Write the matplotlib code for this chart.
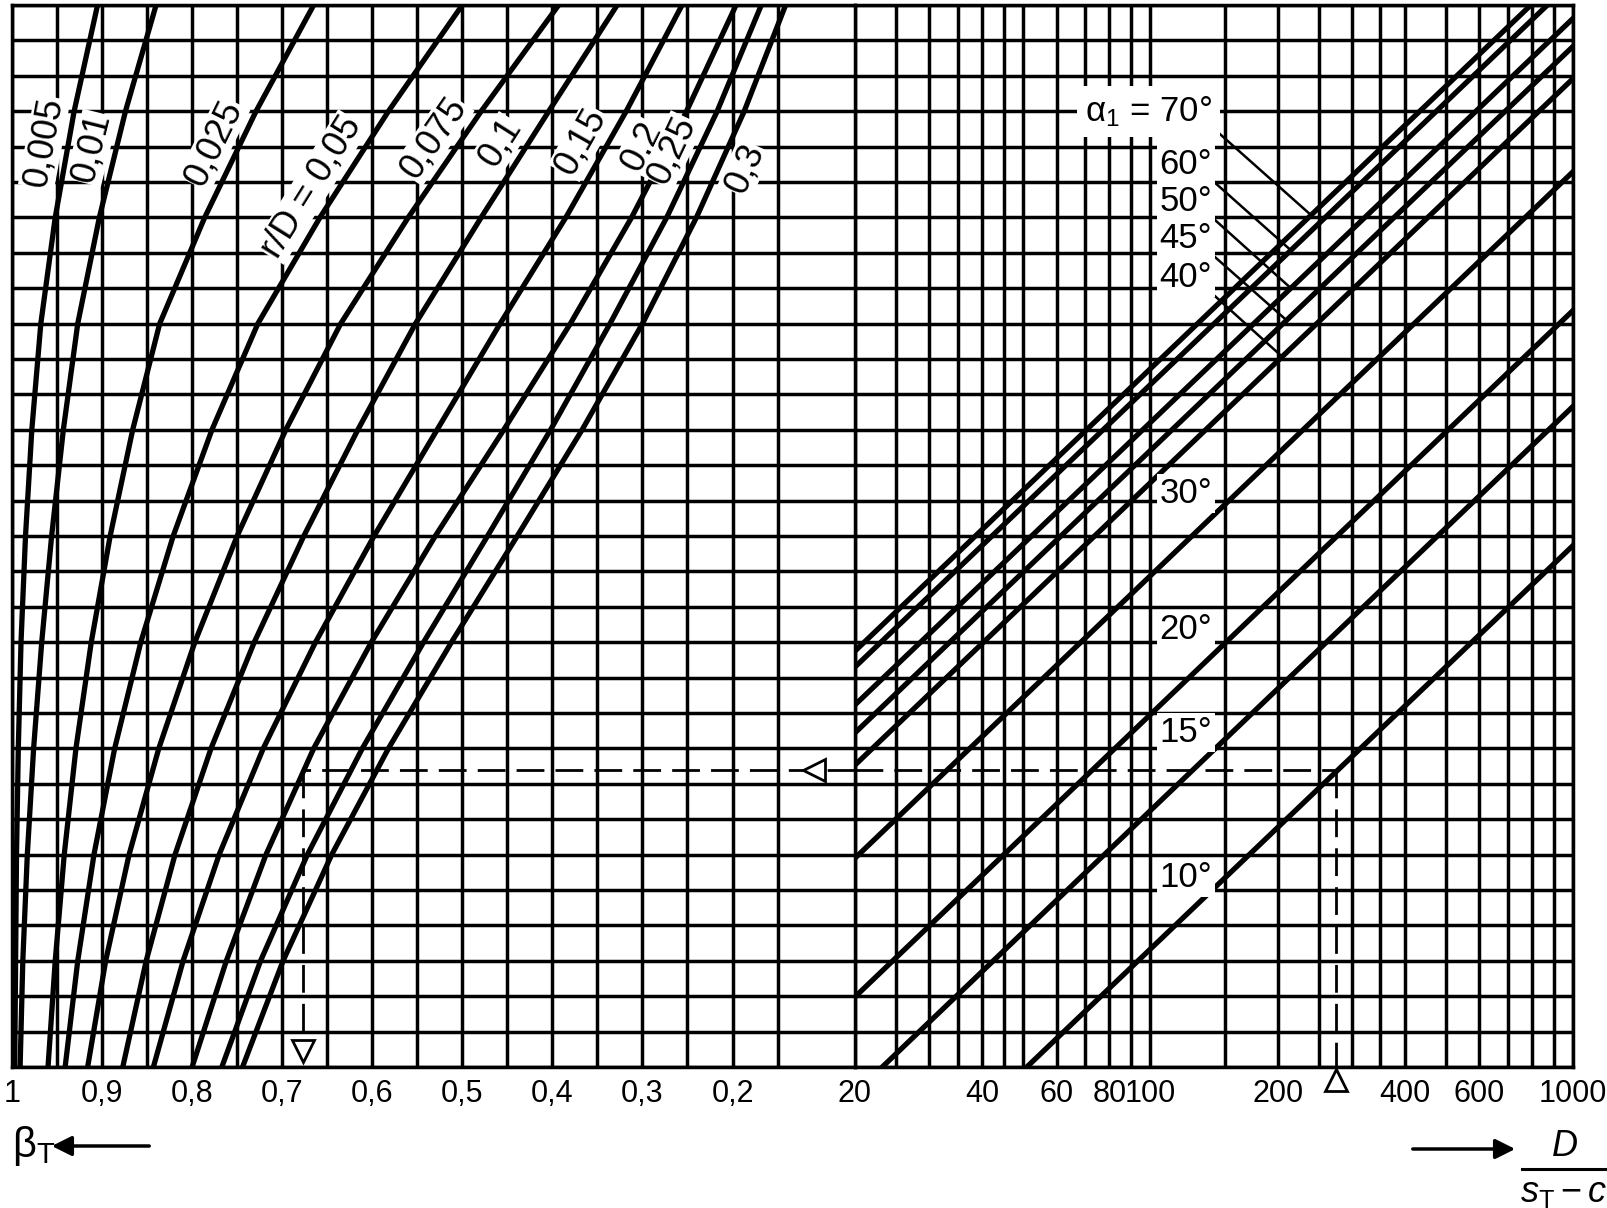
import numpy as np
import matplotlib.pyplot as plt
from matplotlib.ticker import FixedLocator, FixedFormatter, NullFormatter

plt.rcParams['font.family'] = ['Liberation Sans', 'DejaVu Sans']
plt.rcParams['mathtext.fontset'] = 'custom'
plt.rcParams['mathtext.rm'] = 'Liberation Sans'
plt.rcParams['mathtext.it'] = 'Liberation Sans:italic'

# unlabelled vertical scale: 0 at the bottom, 30 at the top, one grid step per unit
u_pts = [0, 3, 6, 9, 12, 15, 18, 21, 24, 27, 30]

# r/D curves, beta_T read at u_pts
rD_names = ['0,005', '0,01', '0,025', 'r/D = 0,05', '0,075', '0,1', '0,15', '0,2', '0,25', '0,3']
b_0005 = [0.997, 0.996, 0.995, 0.993, 0.990, 0.985, 0.978, 0.968, 0.952, 0.931, 0.905]
b_001 = [0.991, 0.988, 0.983, 0.976, 0.967, 0.956, 0.943, 0.927, 0.903, 0.874, 0.840]
b_0025 = [0.960, 0.952, 0.942, 0.929, 0.912, 0.891, 0.866, 0.836, 0.786, 0.729, 0.665]
b_005 = [0.941, 0.927, 0.909, 0.886, 0.857, 0.821, 0.778, 0.727, 0.658, 0.582, 0.500]
b_0075 = [0.916, 0.896, 0.870, 0.837, 0.797, 0.750, 0.696, 0.635, 0.560, 0.479, 0.393]
b_01 = [0.877, 0.851, 0.819, 0.779, 0.731, 0.676, 0.616, 0.552, 0.479, 0.404, 0.328]
b_015 = [0.843, 0.810, 0.770, 0.721, 0.663, 0.598, 0.528, 0.458, 0.385, 0.318, 0.256]
b_02 = [0.800, 0.762, 0.718, 0.665, 0.601, 0.530, 0.454, 0.380, 0.312, 0.251, 0.196]
b_025 = [0.767, 0.724, 0.672, 0.611, 0.543, 0.472, 0.402, 0.336, 0.273, 0.217, 0.168]
b_03 = [0.744, 0.699, 0.645, 0.582, 0.512, 0.439, 0.367, 0.300, 0.240, 0.187, 0.141]
rD_curves = [b_0005, b_001, b_0025, b_005, b_0075, b_01, b_015, b_02, b_025, b_03]
# where each label sits along its curve, and on which side (+ left, - right)
rD_label_u = [26.0, 25.8, 25.8, 24.5, 25.85, 25.75, 25.8, 25.7, 25.6, 25.65]
rD_label_side = [1, 1, 1, 1, 1, 1, 1, 1, 1, -1]

# alpha_1 lines, start and end points (D/(s-c), u)
alpha_names = ['70°', '60°', '50°', '45°', '40°', '30°', '20°', '15°', '10°']
alpha_D0 = [20, 20, 20, 20, 20, 20, 20, 23.2, 51]
alpha_u0 = [11.75, 11.3, 10.23, 9.44, 8.53, 5.9, 1.98, 0, 0]
alpha_D1 = [795, 870, 1000, 1000, 1000, 1000, 1000, 1000, 1000]
alpha_u1 = [30, 30, 29.62, 28.83, 27.92, 25.29, 21.37, 18.66, 14.73]
alpha_label_u = [27.0, 25.5, 24.45, 23.4, 22.3, 16.2, 12.35, 9.45, 5.35]
leader_end_D = [240, 215, 215, 210, 205]

# worked example
ex_D = 275
ex_u = 8.4
ex_beta = 0.677

beta_ticks = [1, 0.9, 0.8, 0.7, 0.6, 0.5, 0.4, 0.3, 0.2]
beta_ticklabels = ['1', '0,9', '0,8', '0,7', '0,6', '0,5', '0,4', '0,3', '0,2']
beta_minor = [0.95, 0.85, 0.75, 0.65, 0.55, 0.45, 0.35, 0.25, 0.15]
beta_edge = 0.064
D_ticks = [20, 40, 60, 80, 100, 200, 400, 600, 1000]
D_ticklabels = ['20', '40', '60', '80', '100', '200', '400', '600', '1000']
D_minor = [25, 30, 35, 45, 50, 70, 90, 150, 250, 300, 350, 500, 700, 800, 900]

W, H = 1608, 1208
fig = plt.figure(figsize=(W / 100, H / 100), dpi=100)
xl, xm, xr = 12, 855, 1573
yt, yb = 5, 1067
ax_l = fig.add_axes([xl / W, (H - yb) / H, (xm - xl) / W, (yb - yt) / H])
ax_r = fig.add_axes([xm / W, (H - yb) / H, (xr - xm) / W, (yb - yt) / H])

ax_l.set_xlim(1, beta_edge)
ax_l.xaxis.set_major_locator(FixedLocator(beta_ticks))
ax_l.xaxis.set_major_formatter(FixedFormatter(beta_ticklabels))
ax_l.xaxis.set_minor_locator(FixedLocator(beta_minor))

ax_r.set_xscale('log')
ax_r.set_xlim(20, 1000)
ax_r.xaxis.set_major_locator(FixedLocator(D_ticks))
ax_r.xaxis.set_major_formatter(FixedFormatter(D_ticklabels))
ax_r.xaxis.set_minor_locator(FixedLocator(D_minor))
ax_r.xaxis.set_minor_formatter(NullFormatter())

grid_lw = 2.5
for ax in (ax_l, ax_r):
    ax.set_ylim(0, 30)
    ax.set_yticks(range(0, 31))
    ax.yaxis.set_major_formatter(NullFormatter())
    ax.tick_params(which='both', length=0, pad=9, labelsize=22)
    ax.grid(True, which='both', color='black', lw=grid_lw)
    ax.set_axisbelow(True)
    for s in ax.spines.values():
        s.set_linewidth(grid_lw)
    ax.set_facecolor('none')
ax_l.spines['right'].set_visible(False)

# r/D curves with their labels beside them
inv = ax_l.transData.inverted()
for name, b, lu, side in zip(rD_names, rD_curves, rD_label_u, rD_label_side):
    ax_l.plot(b, u_pts, color='black', lw=3.8, zorder=3, solid_joinstyle='round')
    p1 = ax_l.transData.transform((np.interp(lu - 1.5, u_pts, b), lu - 1.5))
    p2 = ax_l.transData.transform((np.interp(lu + 1.5, u_pts, b), lu + 1.5))
    th = np.arctan2(p2[1] - p1[1], p2[0] - p1[0])
    pc = ax_l.transData.transform((np.interp(lu, u_pts, b), lu))
    off = 24 * side
    pl = pc + off * np.array([-np.sin(th), np.cos(th)])
    lb, lv = inv.transform(pl)
    ax_l.text(lb, lv, name, rotation=np.degrees(th), rotation_mode='anchor',
              ha='center', va='center', fontsize=26, zorder=5,
              bbox=dict(facecolor='white', edgecolor='none', pad=0.5))

# alpha_1 lines
for i, name in enumerate(alpha_names):
    ax_r.plot([alpha_D0[i], alpha_D1[i]], [alpha_u0[i], alpha_u1[i]], color='black', lw=3.8, zorder=3)
    if i == 0:
        ax_r.text(70, alpha_label_u[i], 'α$_1$ = ' + name, ha='left', va='center', fontsize=25,
                  zorder=5, bbox=dict(facecolor='white', edgecolor='none', pad=6))
    else:
        ax_r.text(105, alpha_label_u[i], name, ha='left', va='center', fontsize=25,
                  zorder=5, bbox=dict(facecolor='white', edgecolor='none', pad=2))

# leaders from the upper labels down to their lines
for i in range(5):
    slope = (alpha_u1[i] - alpha_u0[i]) / np.log10(alpha_D1[i] / alpha_D0[i])
    ue = alpha_u0[i] + slope * np.log10(leader_end_D[i] / alpha_D0[i])
    ax_r.plot([137, leader_end_D[i]], [alpha_label_u[i] - 0.35, ue], color='black', lw=1.8, zorder=4)

# worked example
dash = (0, (10, 4))
ax_r.plot([20, ex_D], [ex_u, ex_u], color='black', lw=2, ls=dash, zorder=4)
ax_r.plot([ex_D, ex_D], [ex_u, 0], color='black', lw=2, ls=dash, zorder=4)
ax_r.plot([ex_D], [-0.37], marker='^', ms=16, mfc='white', mec='black', mew=2, clip_on=False)
ax_l.plot([beta_edge, ex_beta], [ex_u, ex_u], color='black', lw=2, ls=dash, zorder=4)
ax_l.plot([ex_beta, ex_beta], [ex_u, 0.8], color='black', lw=2, ls=dash, zorder=4)
ax_l.plot([0.109], [ex_u], marker='<', ms=16, mfc='white', mec='black', mew=2, zorder=5)
ax_l.plot([ex_beta], [0.45], marker='v', ms=16, mfc='white', mec='black', mew=2, zorder=5)

# axis captions
fig.text(12, H - 1146, 'β$_\\mathrm{T}$', fontsize=30, ha='left', va='center', transform=None)
ax_l.annotate('', xy=(49, H - 1146), xytext=(152, H - 1146), xycoords='figure pixels',
              textcoords='figure pixels',
              arrowprops=dict(arrowstyle='-|>', lw=2.5, color='black', mutation_scale=30))
ax_r.annotate('', xy=(1518, H - 1149), xytext=(1410, H - 1149), xycoords='figure pixels',
              textcoords='figure pixels',
              arrowprops=dict(arrowstyle='-|>', lw=2.5, color='black', mutation_scale=30))
fig.text(1564, H - 1147, r'$D$', fontsize=26, ha='center', va='center', transform=None)
fig.add_artist(plt.Line2D([1522, 1606], [H - 1169, H - 1169], color='black', lw=2.2, transform=None))
fig.text(1564, H - 1193, r'$s_\mathrm{T} - c$', fontsize=26, ha='center', va='center', transform=None)

fig.savefig('out.png', dpi=100, facecolor='white')
